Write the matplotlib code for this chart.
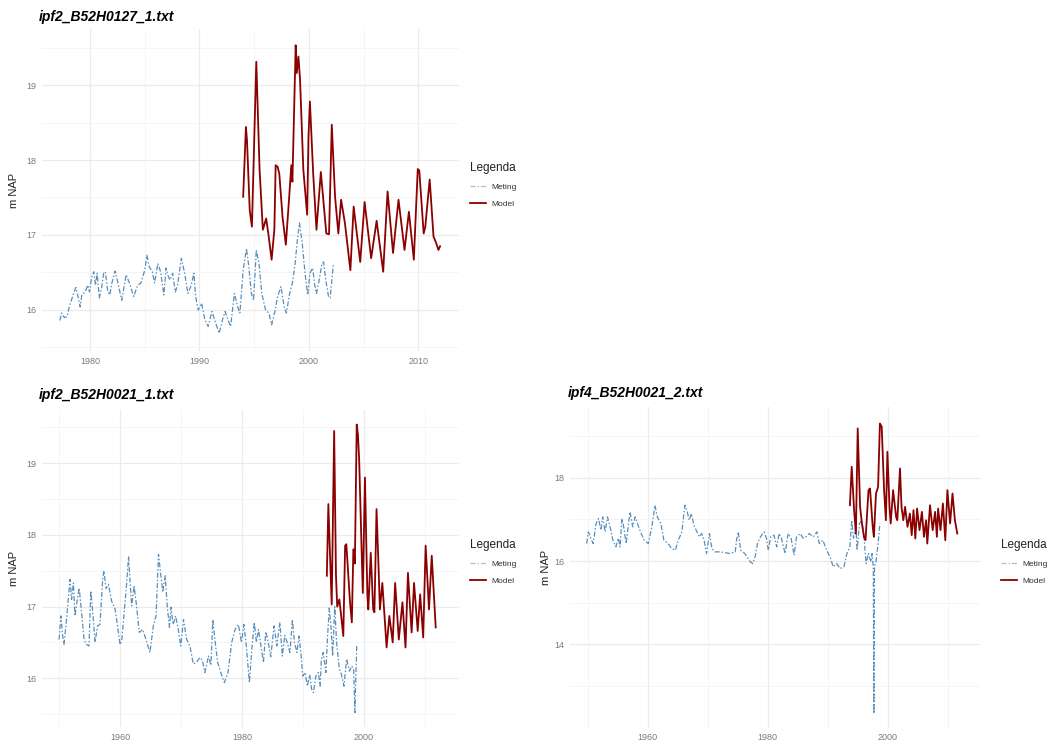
import matplotlib
matplotlib.use("Agg")
import matplotlib.pyplot as plt
from matplotlib.ticker import FixedLocator
import numpy as np

plt.rcParams['font.family'] = ['Liberation Sans', 'DejaVu Sans']

# ---------------- ipf2_B52H0127_1.txt ----------------
b0127_meting_year = [1977.25, 1977.4, 1977.65, 1977.9, 1978.1, 1978.45, 1978.7, 1978.9, 1979.1, 1979.25,
                     1979.55, 1979.8, 1979.95, 1980.15, 1980.35, 1980.5, 1980.65, 1980.85, 1981.05, 1981.25,
                     1981.4, 1981.6, 1981.8, 1982.0, 1982.3, 1982.55, 1982.9, 1983.3, 1983.6, 1984.0,
                     1984.35, 1984.65, 1985.0, 1985.2, 1985.4, 1985.7, 1985.9, 1986.2, 1986.45, 1986.75,
                     1986.95, 1987.1, 1987.3, 1987.55, 1987.8, 1988.0, 1988.35, 1988.65, 1988.95, 1989.25,
                     1989.5, 1989.65, 1989.9, 1990.2, 1990.5, 1990.8, 1991.15, 1991.5, 1991.8, 1992.15,
                     1992.35, 1992.6, 1992.85, 1993.2, 1993.5, 1993.7, 1994.0, 1994.3, 1994.5, 1994.75,
                     1994.95, 1995.2, 1995.45, 1995.7, 1996.05, 1996.35, 1996.6, 1996.9, 1997.15, 1997.45,
                     1997.75, 1997.95, 1998.25, 1998.5, 1998.75, 1998.95, 1999.15, 1999.4, 1999.65, 1999.9,
                     2000.1, 2000.35, 2000.55, 2000.7, 2000.95, 2001.2, 2001.35, 2001.55, 2001.8, 2001.95,
                     2002.25]
b0127_meting_nap = [15.86, 15.96, 15.90, 15.91, 16.04, 16.20, 16.30, 16.18, 16.04, 16.20,
                    16.24, 16.33, 16.24, 16.44, 16.51, 16.33, 16.49, 16.16, 16.29, 16.49,
                    16.51, 16.27, 16.20, 16.36, 16.52, 16.36, 16.13, 16.47, 16.36, 16.18,
                    16.33, 16.36, 16.53, 16.73, 16.58, 16.51, 16.36, 16.62, 16.51, 16.20,
                    16.56, 16.47, 16.40, 16.49, 16.24, 16.33, 16.69, 16.49, 16.22, 16.33,
                    16.49, 16.18, 16.00, 16.09, 15.87, 15.78, 15.98, 15.82, 15.69, 15.89,
                    15.98, 15.87, 15.78, 16.22, 16.04, 15.96, 16.53, 16.82, 16.60, 16.22,
                    16.13, 16.80, 16.62, 16.22, 16.00, 15.96, 15.80, 15.98, 16.18, 16.31,
                    16.04, 15.96, 16.22, 16.36, 16.62, 16.93, 17.16, 16.89, 16.50, 16.20,
                    16.49, 16.56, 16.33, 16.22, 16.40, 16.62, 16.64, 16.40, 16.18, 16.16,
                    16.62]
b0127_model_year = [1994.0, 1994.25, 1994.35, 1994.6, 1994.8, 1995.2, 1995.5, 1995.8, 1996.1, 1996.3,
                    1996.6, 1996.85, 1996.97, 1997.15, 1997.3, 1997.6, 1997.9, 1998.2, 1998.4, 1998.5,
                    1998.8, 1998.9, 1999.05, 1999.2, 1999.5, 1999.85, 1999.97, 2000.1, 2000.4, 2000.7,
                    2001.1, 2001.6, 2001.85, 2002.1, 2002.4, 2002.7, 2002.95, 2003.3, 2003.8, 2004.1,
                    2004.7, 2005.1, 2005.7, 2006.2, 2006.8, 2007.2, 2007.7, 2008.2, 2008.75, 2009.15,
                    2009.6, 2009.96, 2010.1, 2010.5, 2010.65, 2011.05, 2011.4, 2011.65, 2011.85, 2012.0]
b0127_model_nap = [17.51, 18.44, 18.26, 17.33, 17.11, 19.31, 17.87, 17.07, 17.22, 17.02,
                   16.67, 17.07, 17.93, 17.91, 17.82, 17.24, 16.87, 17.49, 17.93, 17.71,
                   19.53, 19.16, 19.38, 19.07, 17.87, 17.27, 18.31, 18.78, 17.82, 17.07,
                   17.84, 17.02, 17.01, 18.47, 17.51, 17.02, 17.47, 17.16, 16.53, 17.38,
                   16.64, 17.44, 16.69, 17.19, 16.51, 17.58, 16.76, 17.47, 16.80, 17.31,
                   16.67, 17.88, 17.86, 17.02, 17.11, 17.74, 16.98, 16.89, 16.80, 16.85]

# ---------------- ipf2_B52H0021_1.txt ----------------
b0021a_meting_year = [1950.0, 1950.3, 1950.55, 1950.8, 1951.2, 1951.5, 1951.8, 1952.05, 1952.35, 1952.6,
                      1952.9, 1953.3, 1953.65, 1954.1, 1954.5, 1954.9, 1955.2, 1955.5, 1955.9, 1956.3,
                      1956.7, 1957.15, 1957.35, 1957.7, 1958.1, 1958.6, 1959.2, 1960.0, 1960.3, 1961.0,
                      1961.4, 1961.6, 1961.9, 1962.3, 1962.65, 1963.15, 1963.7, 1964.25, 1964.9, 1965.45,
                      1965.9, 1966.3, 1966.6, 1967.0, 1967.4, 1967.75, 1968.1, 1968.35, 1968.7, 1969.1,
                      1969.5, 1969.95, 1970.4, 1970.9, 1971.5, 1972.0, 1972.5, 1973.1, 1973.5, 1973.9,
                      1974.5, 1974.9, 1975.2, 1975.6, 1976.0, 1976.7, 1977.1, 1977.7, 1978.3, 1978.85,
                      1979.4, 1979.9, 1980.3, 1980.7, 1981.2, 1981.6, 1982.0, 1982.35, 1982.7, 1983.1,
                      1983.5, 1983.9, 1984.3, 1984.7, 1985.25, 1985.7, 1986.2, 1986.6, 1987.0, 1987.4,
                      1987.85, 1988.25, 1988.6, 1989.0, 1989.35, 1989.7, 1989.95, 1990.35, 1990.7, 1991.1,
                      1991.4, 1991.7, 1992.1, 1992.5, 1992.8, 1993.0, 1993.3, 1993.75, 1994.0, 1994.3,
                      1994.6, 1994.85, 1995.2, 1995.5, 1995.95, 1996.3, 1996.7, 1997.15, 1997.6, 1998.0,
                      1998.3, 1998.5, 1998.8]
b0021a_meting_nap = [16.54, 16.87, 16.62, 16.47, 16.80, 17.10, 17.38, 17.10, 17.33, 16.87,
                     17.05, 17.26, 16.95, 16.54, 16.47, 16.45, 17.22, 16.95, 16.50, 16.73,
                     16.75, 17.38, 17.50, 17.25, 17.31, 17.08, 16.96, 16.47, 16.55, 17.24,
                     17.70, 17.40, 17.01, 17.29, 17.05, 16.64, 16.68, 16.54, 16.36, 16.73,
                     16.87, 17.73, 17.50, 17.20, 17.43, 16.99, 16.71, 16.99, 16.75, 16.87,
                     16.70, 16.45, 16.82, 16.55, 16.43, 16.20, 16.22, 16.29, 16.25, 16.08,
                     16.31, 16.18, 16.82, 16.50, 16.22, 16.03, 15.94, 16.08, 16.50, 16.68,
                     16.75, 16.50, 16.75, 16.45, 15.94, 16.40, 16.78, 16.50, 16.68, 16.45,
                     16.22, 16.65, 16.50, 16.30, 16.73, 16.45, 16.78, 16.31, 16.60, 16.50,
                     16.36, 16.82, 16.50, 16.36, 16.59, 16.30, 16.03, 16.08, 15.89, 16.05,
                     15.85, 15.80, 16.03, 16.08, 15.89, 16.25, 16.36, 16.08, 16.55, 16.98,
                     16.70, 16.31, 17.00, 16.50, 16.13, 16.05, 15.89, 16.27, 16.10, 16.17,
                     16.12, 15.52, 16.45]
b0021a_model_year = [1993.9, 1994.15, 1994.35, 1994.7, 1995.1, 1995.4, 1995.6, 1995.95, 1996.15, 1996.6,
                     1996.9, 1997.1, 1997.7, 1998.0, 1998.25, 1998.5, 1998.8, 1999.0, 1999.2, 1999.6,
                     1999.8, 2000.15, 2000.55, 2000.7, 2001.1, 2001.5, 2001.7, 2002.05, 2002.4, 2002.6,
                     2003.0, 2003.7, 2004.15, 2004.7, 2005.1, 2005.7, 2006.3, 2006.8, 2007.2, 2007.8,
                     2008.2, 2008.8, 2009.2, 2009.7, 2010.1, 2010.65, 2011.1, 2011.75]
b0021a_model_nap = [17.43, 18.43, 17.90, 17.03, 19.45, 17.43, 17.00, 17.10, 16.95, 16.59,
                    17.85, 17.87, 17.06, 16.78, 17.80, 17.60, 19.54, 19.40, 19.05, 17.80,
                    17.19, 18.80, 17.15, 16.96, 17.75, 16.96, 16.92, 18.36, 17.50, 16.96,
                    17.33, 16.43, 16.87, 16.50, 17.33, 16.54, 17.06, 16.43, 17.47, 16.64,
                    17.33, 16.66, 17.17, 16.57, 17.85, 16.96, 17.71, 16.71]

# ---------------- ipf4_B52H0021_2.txt ----------------
b0021b_meting_year = [1949.83, 1950.1, 1950.5, 1950.9, 1951.4, 1951.8, 1952.2, 1952.5, 1952.9, 1953.3,
                      1953.8, 1954.2, 1954.7, 1955.1, 1955.4, 1955.7, 1956.0, 1956.4, 1956.6, 1957.05,
                      1957.5, 1957.9, 1958.3, 1958.8, 1959.4, 1960.1, 1960.7, 1961.2, 1961.6, 1962.2,
                      1962.7, 1963.4, 1964.0, 1964.6, 1965.1, 1965.7, 1966.2, 1966.6, 1966.9, 1967.3,
                      1967.7, 1968.2, 1968.6, 1969.0, 1969.4, 1969.8, 1970.3, 1970.7, 1971.2, 1972.1,
                      1972.9, 1973.7, 1974.6, 1974.8, 1975.1, 1975.5, 1976.2, 1977.1, 1977.5, 1977.9,
                      1978.3, 1978.8, 1979.4, 1979.8, 1980.1, 1980.5, 1981.05, 1981.5, 1981.9, 1982.3,
                      1982.9, 1983.4, 1983.9, 1984.4, 1984.8, 1985.4, 1985.9, 1986.4, 1986.9, 1987.6,
                      1988.2, 1988.6, 1989.2, 1989.6, 1990.1, 1990.5, 1990.9, 1991.5, 1992.05, 1992.7,
                      1993.2, 1993.7, 1994.0, 1994.3, 1994.7, 1994.9, 1995.3, 1995.7, 1996.0, 1996.4,
                      1996.8, 1997.2, 1997.4, 1997.6, 1997.7, 1997.8, 1998.05, 1998.4, 1998.7]
b0021b_meting_nap = [16.42, 16.70, 16.55, 16.42, 16.90, 17.02, 16.74, 17.06, 16.70, 17.06,
                     16.78, 16.50, 16.34, 16.55, 16.34, 17.02, 16.82, 16.42, 16.66, 17.18,
                     16.82, 17.06, 16.90, 16.70, 16.50, 16.42, 16.82, 17.34, 17.06, 16.90,
                     16.50, 16.42, 16.30, 16.26, 16.50, 16.70, 17.34, 17.18, 16.98, 17.14,
                     16.86, 16.70, 16.58, 16.66, 16.50, 16.18, 16.66, 16.30, 16.22, 16.22,
                     16.20, 16.18, 16.22, 16.50, 16.70, 16.26, 16.18, 15.98, 15.94, 16.10,
                     16.42, 16.58, 16.70, 16.54, 16.26, 16.58, 16.62, 16.34, 16.66, 16.54,
                     16.18, 16.66, 16.55, 16.14, 16.58, 16.66, 16.55, 16.58, 16.66, 16.58,
                     16.70, 16.42, 16.50, 16.34, 16.18, 16.06, 15.86, 15.94, 15.82, 15.86,
                     16.18, 16.34, 16.98, 16.55, 16.82, 16.26, 16.90, 16.98, 16.66, 15.94,
                     16.18, 15.98, 16.18, 15.86, 12.34, 15.86, 15.98, 16.42, 16.90]
b0021b_model_year = [1993.7, 1994.0, 1994.4, 1994.7, 1995.0, 1995.4, 1995.7, 1996.05, 1996.3, 1996.8,
                     1997.05, 1997.5, 1997.7, 1998.05, 1998.4, 1998.7, 1999.0, 1999.4, 1999.7, 1999.95,
                     2000.3, 2000.5, 2000.9, 2001.4, 2001.6, 2002.05, 2002.3, 2002.6, 2002.9, 2003.3,
                     2003.7, 2004.0, 2004.3, 2004.6, 2004.9, 2005.3, 2005.7, 2006.05, 2006.4, 2006.6,
                     2007.05, 2007.5, 2007.9, 2008.2, 2008.4, 2008.8, 2009.2, 2009.6, 2009.95, 2010.4,
                     2010.8, 2011.2, 2011.6]
b0021b_model_nap = [17.34, 18.26, 17.22, 16.66, 19.18, 17.30, 16.90, 16.58, 16.50, 17.70,
                    17.74, 16.82, 16.58, 17.62, 17.78, 19.30, 19.22, 17.70, 16.98, 18.62,
                    17.30, 16.90, 17.70, 17.06, 16.98, 18.22, 17.30, 16.98, 17.30, 16.82,
                    17.14, 16.62, 17.22, 16.54, 17.26, 16.74, 17.18, 16.58, 16.98, 16.42,
                    17.34, 16.74, 17.18, 16.58, 17.26, 16.74, 17.38, 16.50, 17.70, 16.90,
                    17.62, 16.98, 16.66]

METING_COLOR = '#4682B4'
MODEL_COLOR = '#8B0000'
W, H = 1051, 745

fig = plt.figure(figsize=(W / 100, H / 100), dpi=100)
fig.patch.set_facecolor('white')


def fx(px):
    return px / W


def fy(py):
    return 1 - py / H


def panel(box, title, mx, my, dx, dy, xlim, ylim, xmaj, xmin, ymaj, ymin,
          ylabel_x, legend_x, legend_y):
    left, top, right, bottom = box
    ax = fig.add_axes([fx(left), fy(bottom), fx(right - left), (bottom - top) / H])
    ax.set_facecolor('white')
    ax.set_xlim(*xlim)
    ax.set_ylim(*ylim)
    ax.xaxis.set_major_locator(FixedLocator(xmaj))
    ax.xaxis.set_minor_locator(FixedLocator(xmin))
    ax.yaxis.set_major_locator(FixedLocator(ymaj))
    ax.yaxis.set_minor_locator(FixedLocator(ymin))
    ax.set_xticklabels([str(v) for v in xmaj])
    ax.set_yticklabels([str(v) for v in ymaj])
    ax.grid(True, which='major', color='#ebebeb', lw=0.9)
    ax.grid(True, which='minor', color='#f4f4f4', lw=0.6)
    ax.set_axisbelow(True)
    for s in ax.spines.values():
        s.set_visible(False)
    ax.tick_params(which='both', length=0, labelsize=6.5, labelcolor='#7a7a7a', pad=4)

    l1, = ax.plot(mx, my, color=METING_COLOR, lw=0.9,
                  linestyle=(0, (4, 1.6, 1.2, 1.6)), alpha=0.9, label='Meting')
    l2, = ax.plot(dx, dy, color=MODEL_COLOR, lw=1.3, label='Model')

    fig.text(fx(left - 3), fy(17), title, fontsize=10, fontweight='bold',
             fontstyle='italic', va='center', ha='left') if top < 100 else \
        fig.text(fx(left - 3), fy(top - 14), title, fontsize=10, fontweight='bold',
                 fontstyle='italic', va='center', ha='left')
    fig.text(fx(ylabel_x), fy((top + bottom) / 2), 'm NAP', rotation=90,
             fontsize=8, color='#222222', va='center', ha='center')

    leg = ax.legend(handles=[l1, l2], title='Legenda', frameon=False,
                    loc='upper left', bbox_to_anchor=(fx(legend_x), fy(legend_y)),
                    bbox_transform=fig.transFigure, fontsize=6, title_fontsize=8.5,
                    handlelength=1.9, handletextpad=0.7, labelspacing=1.1,
                    borderpad=0, borderaxespad=0)
    leg._legend_box.align = 'left'
    leg.get_title().set_color('#222222')
    for t in leg.get_texts():
        t.set_color('#333333')
    leg.legend_handles[0].set_alpha(0.5)
    return ax


panel((42, 29, 459, 351), 'ipf2_B52H0127_1.txt',
      b0127_meting_year, b0127_meting_nap, b0127_model_year, b0127_model_nap,
      (1975.61, 2013.73), (15.453, 19.747),
      [1980, 1990, 2000, 2010], [1985, 1995, 2005],
      [16, 17, 18, 19], [15.5, 16.5, 17.5, 18.5, 19.5],
      14, 470, 162)

panel((42, 409.5, 459, 727), 'ipf2_B52H0021_1.txt',
      b0021a_meting_year, b0021a_meting_nap, b0021a_model_year, b0021a_model_nap,
      (1947.2, 2015.57), (15.32, 19.75),
      [1960, 1980, 2000], [1950, 1970, 1990, 2010],
      [16, 17, 18, 19], [15.5, 16.5, 17.5, 18.5, 19.5],
      14, 470, 539)

panel((570.3, 407.2, 979.5, 727.8), 'ipf4_B52H0021_2.txt',
      b0021b_meting_year, b0021b_meting_nap, b0021b_model_year, b0021b_model_nap,
      (1947.1, 2015.3), (12.0, 19.69),
      [1960, 1980, 2000], [1950, 1970, 1990, 2010],
      [14, 16, 18], [13, 15, 17, 19],
      546, 1001, 539)

fig.savefig('out.png', dpi=100, facecolor='white')
